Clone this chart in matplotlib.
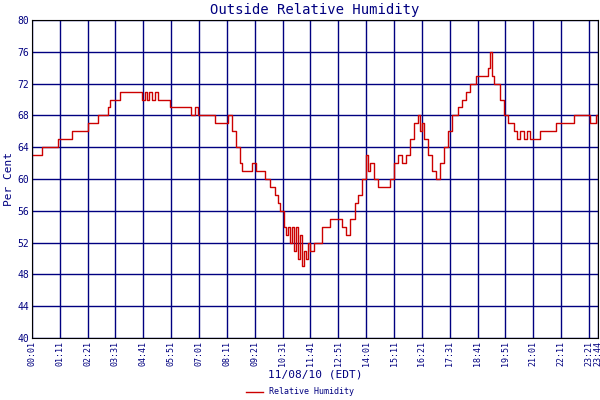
import matplotlib
matplotlib.use("Agg")
import matplotlib.pyplot as plt

# minutes since midnight, relative humidity (%)
minutes = [1, 26, 59, 66, 97, 102, 134, 142, 159, 167, 185, 192, 197, 217, 222, 273, 278, 285, 290, 296, 302, 310,
           318, 343, 348, 398, 402, 411, 418, 448, 461, 486, 494, 504, 514, 524, 529, 544, 554, 564, 579,
           587, 599, 612, 619, 624, 634, 640, 645, 650, 655, 660, 665, 670, 675, 680, 685, 690, 695, 700, 710, 720,
           730, 740, 750, 770, 780, 790, 800, 813, 820, 831, 841, 846, 851, 861, 871, 886, 901, 911,
           921, 931, 941, 951, 961, 971, 976, 981, 986, 996, 1006, 1016, 1026, 1036, 1046,
           1057, 1072, 1082, 1092, 1102, 1117, 1142, 1147, 1152, 1157, 1162, 1177, 1187, 1197, 1213,
           1220, 1228, 1238, 1245, 1253, 1278, 1303, 1318, 1353, 1363, 1391, 1404, 1419, 1424]
humidity = [63, 64, 64, 65, 65, 66, 66, 67, 67, 68, 68, 69, 70, 70, 71, 71, 70, 71, 70, 71, 70, 71,
            70, 70, 69, 69, 68, 69, 68, 68, 67, 67, 68, 66, 64, 62, 61, 61, 62, 61, 61,
            60, 59, 58, 57, 56, 54, 53, 54, 52, 54, 51, 54, 50, 53, 49, 51, 50, 52, 51, 52, 52,
            54, 54, 55, 55, 54, 53, 55, 57, 58, 60, 63, 61, 62, 60, 59, 59, 60, 62,
            63, 62, 63, 65, 67, 68, 66, 67, 65, 63, 61, 60, 62, 64, 66,
            68, 69, 70, 71, 72, 73, 73, 74, 76, 73, 72, 70, 68, 67, 66,
            65, 66, 65, 66, 65, 66, 66, 67, 67, 68, 68, 67, 68, 67]

tick_minutes = [1 + 70 * i for i in range(21)] + [1424]
tick_labels = ["%02d:%02d" % divmod(m, 60) for m in tick_minutes]
y_ticks = list(range(40, 81, 4))

navy = "#000080"
plt.rcParams["font.family"] = "DejaVu Sans Mono"

fig = plt.figure(figsize=(6, 4), dpi=100)
ax = fig.add_axes([0.053, 0.155, 0.944, 0.795])
ax.step(minutes, humidity, where="post", color="#cc0000", lw=1, label="Relative Humidity")
ax.set_xlim(1, 1424)
ax.set_ylim(40, 80)
ax.set_xticks(tick_minutes)
ax.set_xticklabels(tick_labels, rotation=90, fontsize=6, color=navy)
ax.set_yticks(y_ticks)
ax.set_yticklabels([str(v) for v in y_ticks], fontsize=7, color=navy)
ax.grid(True, color=navy, lw=1)
ax.tick_params(length=0, pad=2)
ax.set_title("Outside Relative Humidity", fontsize=10, color=navy, pad=4)
ax.set_ylabel("Per Cent", fontsize=8, color=navy, labelpad=2)
ax.set_xlabel("11/08/10 (EDT)", fontsize=8, color=navy, labelpad=3)
fig.legend(loc="lower center", bbox_to_anchor=(0.5, -0.01), frameon=False, fontsize=6,
           handlelength=2, labelcolor=navy)
fig.savefig("out.png")
